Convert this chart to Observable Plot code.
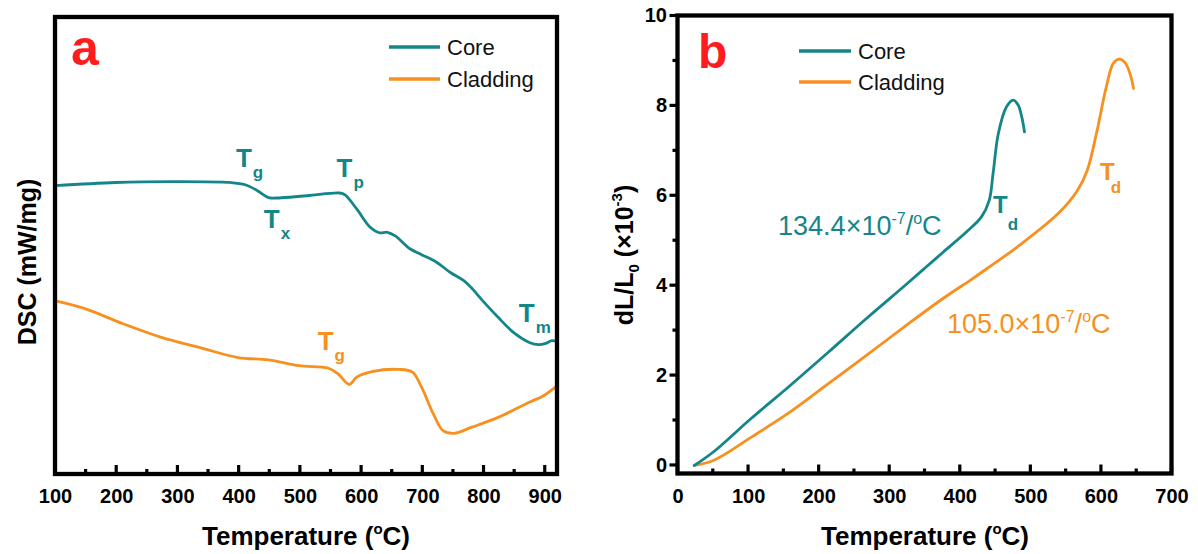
<!DOCTYPE html>
<html>
<head>
<meta charset="utf-8">
<script src="https://cdn.jsdelivr.net/npm/d3@7"></script>
<script src="https://cdn.jsdelivr.net/npm/@observablehq/plot@0.6"></script>
<style>
  body { margin: 0; background: #fff; }
  #wrap { position: relative; width: 1198px; height: 554px; overflow: hidden; background: #fff; }
  #wrap svg { position: absolute; top: 0; }
</style>
</head>
<body>
<div id="wrap"></div>
<script>
// ---------- DATA ----------
// Panel a: DSC curves (arbitrary units, 0-100 relative scale)
const dscCoreT = [100, 198, 291, 385, 410, 430, 448, 460, 511, 564, 573, 592, 614, 629, 642, 655, 679, 698, 723, 745, 767, 779, 798, 823, 848, 874, 889, 901, 911, 920];
const dscCoreV = [63.2, 63.9, 64.1, 63.9, 63.4, 62.1, 60.6, 60.5, 61.0, 61.6, 61.2, 58.1, 54.1, 52.9, 53.0, 52.2, 49.4, 48.1, 46.4, 44.2, 42.4, 40.9, 38.0, 34.4, 31.1, 28.9, 28.4, 28.7, 29.3, 29.1];
const dscCladT = [100, 148, 210, 273, 335, 398, 448, 498, 545, 561, 580, 592, 617, 661, 683, 698, 717, 733, 751, 779, 823, 874, 898, 920];
const dscCladV = [38.0, 36.3, 33.0, 30.0, 27.8, 25.6, 25.1, 23.8, 23.3, 22.1, 19.7, 21.3, 22.5, 23.0, 22.4, 19.1, 13.3, 9.6, 9.0, 10.3, 12.5, 15.8, 17.3, 19.5];

// Panel b: thermal expansion dL/L0 (x10^-3)
const expCoreT = [23, 50, 104, 159, 213, 267, 322, 352, 376, 409, 430, 441, 446.5, 454, 465.5, 475, 482, 487, 491];
const expCoreV = [0, 0.30, 1.05, 1.78, 2.52, 3.27, 4.01, 4.42, 4.75, 5.20, 5.53, 5.90, 6.50, 7.39, 7.98, 8.13, 8.02, 7.76, 7.42];
const expCladT = [23, 50, 104, 159, 213, 267, 322, 376, 414, 436, 484, 539, 566, 580, 593, 607, 617, 625.6, 634, 641, 645.5];
const expCladV = [0, 0.11, 0.63, 1.19, 1.82, 2.45, 3.10, 3.72, 4.12, 4.36, 4.90, 5.61, 6.12, 6.57, 7.39, 8.43, 8.95, 9.04, 8.95, 8.69, 8.39];

const seriesNames = ["Core", "Cladding"];
const dscTicksMajor = [100, 200, 300, 400, 500, 600, 700, 800, 900];
const dscTicksMinor = [150, 250, 350, 450, 550, 650, 750, 850];
const expTicksMajor = [0, 100, 200, 300, 400, 500, 600, 700];
const expTicksMinor = [50, 150, 250, 350, 450, 550, 650];
const expYMajor = [0, 2, 4, 6, 8, 10];
const expYMinor = [1, 3, 5, 7, 9];

// annotations (data coordinates)
const dscLabels = [
  {T: 395.5, v: 67.1, main: "T", sub: "g", s: "Core"},
  {T: 441, v: 53.8, main: "T", sub: "x", s: "Core"},
  {T: 560, v: 64.9, main: "T", sub: "p", s: "Core"},
  {T: 857.5, v: 33.2, main: "T", sub: "m", s: "Core"},
  {T: 529, v: 27.1, main: "T", sub: "g", s: "Cladding"}
];
const expLabels = [
  {T: 447, v: 5.61, main: "T", sub: "d", s: "Core", dx: 0, dy: 17},
  {T: 598.7, v: 6.35, main: "T", sub: "d", s: "Cladding", dx: -4, dy: 13}
];
const cteLabels = [
  {T: 142.5, v: 5.12, value: "134.4", s: "Core"},
  {T: 381.9, v: 2.94, value: "105.0", s: "Cladding"}
];

// ---------- STYLE ----------
const TEAL = "#14868a", ORANGE = "#f7901e", RED = "#ff1c1c";
const colorOf = {Core: TEAL, Cladding: ORANGE};
const FONT = "'Liberation Sans', Arial, Helvetica, sans-serif";

const zip = (T, V, s) => T.map((t, i) => ({T: t, v: V[i], s}));
const dscCore = zip(dscCoreT, dscCoreV, "Core");
const dscClad = zip(dscCladT, dscCladV, "Cladding");
const expCore = zip(expCoreT, expCoreV, "Core");
const expClad = zip(expCladT, expCladV, "Cladding");

const wrap = document.getElementById("wrap");

// helper for rich text with tspans
function rich(svg, x, y, parts, attrs) {
  const t = d3.select(svg).append("text").attr("x", x).attr("y", y).attr("text-anchor", "start");
  for (const [k, val] of Object.entries(attrs)) t.attr(k, val);
  let shift = 0;
  for (const p of parts) {
    const ts = t.append("tspan").text(p.t);
    const target = p.shift || 0;
    const dy = target - shift;
    if (dy) ts.attr("dy", dy);
    if (p.size) ts.attr("font-size", p.size);
    if (p.dx) ts.attr("dx", p.dx);
    shift = target;
  }
  return t;
}

function legend(svg, x0, x1, ys) {
  const g = d3.select(svg).append("g");
  seriesNames.forEach((name, i) => {
    g.append("line").attr("x1", x0).attr("x2", x1).attr("y1", ys[i]).attr("y2", ys[i])
      .attr("stroke", colorOf[name]).attr("stroke-width", 3.4);
    g.append("text").attr("x", x1 + 7).attr("y", ys[i] + 8).text(name)
      .attr("text-anchor", "start")
      .attr("font-family", FONT).attr("font-size", 22).attr("fill", "#111");
  });
}

// heavy frame and ticks drawn from the chart's own scales
function frameAndTicks(svg, xMajor, xMinor, yMajor, yMinor) {
  const sx = svg.scale("x"), sy = svg.scale("y");
  const [x0, x1] = sx.range, [y0, y1] = sy.range; // y0 bottom, y1 top
  const g = d3.select(svg).append("g").attr("stroke", "#000").attr("fill", "none");
  const tick = (x, y, dx, dy) => g.append("line").attr("x1", x).attr("y1", y).attr("x2", x + dx).attr("y2", y + dy).attr("stroke-width", 3.2);
  xMajor.forEach(v => tick(sx.apply(v), y0, 0, -9));
  xMinor.forEach(v => tick(sx.apply(v), y0, 0, -5));
  yMajor.forEach(v => tick(x0, sy.apply(v), -8, 0));
  yMinor.forEach(v => tick(x0, sy.apply(v), -5, 0));
  g.append("rect").attr("x", x0).attr("y", y1).attr("width", x1 - x0).attr("height", y0 - y1)
    .attr("stroke-width", 4.3).attr("stroke-linejoin", "miter");
}

// ---------- PANEL A ----------
const plotA = Plot.plot({
  width: 599, height: 554,
  marginLeft: 55, marginRight: 42, marginTop: 17, marginBottom: 80,
  style: {fontFamily: FONT, background: "transparent", overflow: "visible", color: "black"},
  x: {domain: [100, 920]},
  y: {domain: [0, 100], axis: null},
  marks: [
    Plot.line(dscClad, {x: "T", y: "v", stroke: ORANGE, strokeWidth: 2.8, curve: "catmull-rom"}),
    Plot.line(dscCore, {x: "T", y: "v", stroke: TEAL, strokeWidth: 2.8, curve: "catmull-rom"}),
    Plot.axisX({ticks: dscTicksMajor, tickSize: 0, tickPadding: 14, fontSize: 20, fontWeight: "bold", label: null})
  ]
});
plotA.style.left = "0px";
wrap.appendChild(plotA);
frameAndTicks(plotA, dscTicksMajor, dscTicksMinor, [], []);
{
  const sx = plotA.scale("x"), sy = plotA.scale("y");
  for (const a of dscLabels) {
    rich(plotA, sx.apply(a.T), sy.apply(a.v), [
      {t: a.main, size: 26},
      {t: a.sub, size: 17, shift: 11, dx: 1}
    ], {"font-family": FONT, "font-weight": "bold", fill: colorOf[a.s]});
  }
  rich(plotA, 71, 65, [{t: "a"}], {"font-family": FONT, "font-weight": "bold", "font-size": 50, fill: RED});
  legend(plotA, 389, 440, [47, 79]);
  rich(plotA, 306, 545, [
    {t: "Temperature ("}, {t: "o", size: 15, shift: -11}, {t: "C)", shift: 0}
  ], {"font-family": FONT, "font-weight": "bold", "font-size": 26, fill: "#000", "text-anchor": "middle"});
  rich(plotA, 0, 0, [{t: "DSC (mW/mg)"}], {"font-family": FONT, "font-weight": "bold", "font-size": 25, fill: "#000",
    "text-anchor": "middle", transform: "translate(36,262) rotate(-90)"});
}

// ---------- PANEL B ----------
const plotB = Plot.plot({
  width: 599, height: 554,
  marginLeft: 78.5, marginRight: 26.5, marginTop: 15.5, marginBottom: 80.5,
  style: {fontFamily: FONT, background: "transparent", overflow: "visible", color: "black"},
  x: {domain: [0, 700]},
  y: {domain: [-0.19, 10]},
  marks: [
    Plot.line(expClad, {x: "T", y: "v", stroke: ORANGE, strokeWidth: 2.8, curve: "catmull-rom"}),
    Plot.line(expCore, {x: "T", y: "v", stroke: TEAL, strokeWidth: 2.8, curve: "catmull-rom"}),
    Plot.axisX({ticks: expTicksMajor, tickSize: 0, tickPadding: 15, fontSize: 20, fontWeight: "bold", label: null}),
    Plot.axisY({ticks: expYMajor, tickSize: 0, tickPadding: 11, fontSize: 20, fontWeight: "bold", label: null})
  ]
});
plotB.style.left = "599px";
wrap.appendChild(plotB);
frameAndTicks(plotB, expTicksMajor, expTicksMinor, expYMajor, expYMinor);
{
  const sx = plotB.scale("x"), sy = plotB.scale("y");
  for (const a of expLabels) {
    rich(plotB, sx.apply(a.T), sy.apply(a.v), [
      {t: a.main, size: 24},
      {t: a.sub, size: 17, shift: a.dy, dx: a.dx}
    ], {"font-family": FONT, "font-weight": "bold", fill: colorOf[a.s]});
  }
  for (const c of cteLabels) {
    rich(plotB, sx.apply(c.T), sy.apply(c.v), [
      {t: c.value + "\u00d710"}, {t: "-7", size: 16, shift: -11}, {t: "/", shift: 0},
      {t: "o", size: 16, shift: -11}, {t: "C", shift: 0}
    ], {"font-family": FONT, "font-size": 27, fill: colorOf[c.s]});
  }
  rich(plotB, 99, 68, [{t: "b"}], {"font-family": FONT, "font-weight": "bold", "font-size": 48, fill: RED});
  legend(plotB, 200, 252, [51, 82]);
  rich(plotB, 326, 545, [
    {t: "Temperature ("}, {t: "o", size: 15, shift: -11}, {t: "C)", shift: 0}
  ], {"font-family": FONT, "font-weight": "bold", "font-size": 26, fill: "#000", "text-anchor": "middle"});
  rich(plotB, 0, 0, [
    {t: "dL/L"}, {t: "0", size: 15, shift: 6}, {t: " (\u00d710", shift: 0}, {t: "-3", size: 15, shift: -11}, {t: ")", shift: 0}
  ], {"font-family": FONT, "font-weight": "bold", "font-size": 25, fill: "#000",
    "text-anchor": "middle", transform: "translate(34,255) rotate(-90)"});
}
</script>
</body>
</html>
